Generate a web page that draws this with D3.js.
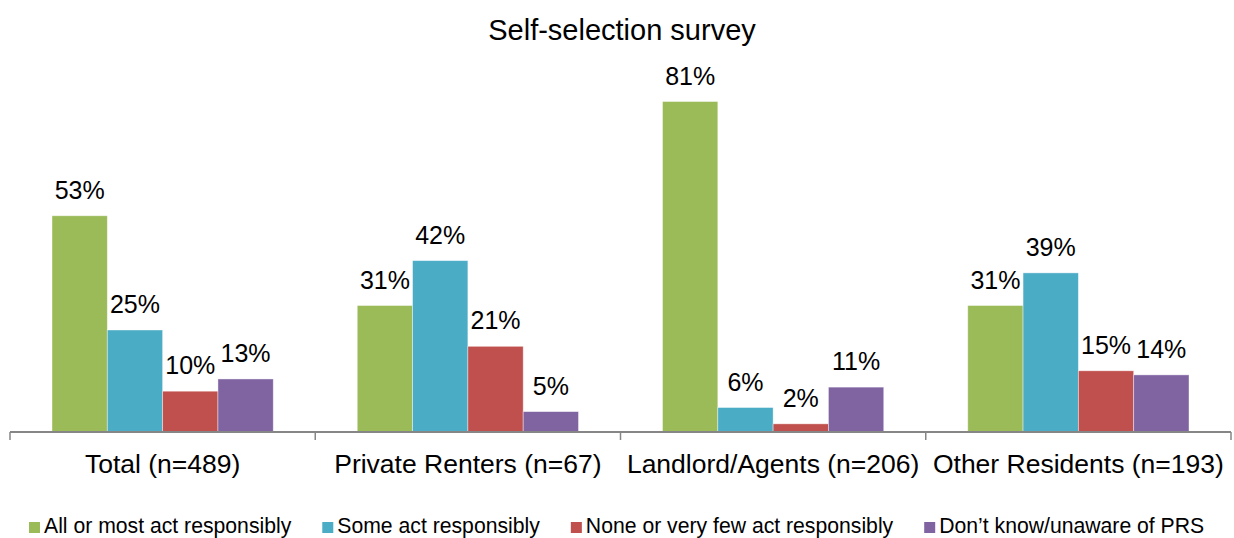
<!DOCTYPE html>
<html>
<head>
<meta charset="utf-8">
<script src="https://cdn.jsdelivr.net/npm/d3@7"></script>
<style>
  html, body { margin: 0; padding: 0; background: #fff; }
  svg { display: block; font-family: "Liberation Sans", Arial, sans-serif; }
</style>
</head>
<body>
<svg id="chart" width="1234" height="538"></svg>
<script>
// Survey groups and the share of respondents giving each answer (%)
const categories = ["Total (n=489)", "Private Renters (n=67)", "Landlord/Agents (n=206)", "Other Residents (n=193)"];
const seriesNames = ["All or most act responsibly", "Some act responsibly", "None or very few act responsibly", "Don\u2019t know/unaware of PRS"];
const allOrMost   = [53, 31, 81, 31];
const someAct     = [25, 42, 6, 39];
const noneOrFew   = [10, 21, 2, 15];
const dontKnow    = [13, 5, 11, 14];
const seriesColors = ["#9BBB59", "#4BACC6", "#C0504D", "#8064A2"];
const yMax = 90;

const seriesValues = [allOrMost, someAct, noneOrFew, dontKnow];

const svg = d3.select("#chart");
const left = 10, right = 1231, baseY = 432, topY = 64.8;

const x0 = d3.scaleBand().domain(categories).range([left, right]).padding(0);
const groupPad = 42;
const x1 = d3.scaleBand().domain(seriesNames).range([groupPad, x0.bandwidth() - groupPad]).padding(0);
const y = d3.scaleLinear().domain([0, yMax]).range([baseY, topY]);

// Title
svg.append("text")
  .attr("x", 622).attr("y", 40)
  .attr("text-anchor", "middle")
  .attr("font-size", 29)
  .attr("fill", "#000")
  .text("Self-selection survey");

// Bars
const groups = svg.append("g").selectAll("g")
  .data(categories)
  .join("g")
  .attr("transform", d => `translate(${x0(d)},0)`);

const cells = groups.selectAll("g")
  .data((c, ci) => seriesNames.map((s, si) => ({ series: s, si, value: seriesValues[si][ci] })))
  .join("g");

cells.append("rect")
  .attr("x", d => x1(d.series))
  .attr("width", x1.bandwidth())
  .attr("y", d => y(d.value))
  .attr("height", d => baseY - y(d.value))
  .attr("fill", d => seriesColors[d.si])
  .attr("stroke", "#ffffff")
  .attr("stroke-opacity", 0.5)
  .attr("stroke-width", 0.8);

cells.append("text")
  .attr("x", d => x1(d.series) + x1.bandwidth() / 2)
  .attr("y", d => y(d.value) - 17)
  .attr("text-anchor", "middle")
  .attr("font-size", 25)
  .attr("fill", "#000")
  .text(d => d.value + "%");

// Category axis with ticks between groups
const axis = svg.append("g").attr("transform", `translate(0,${baseY})`);
axis.append("line")
  .attr("x1", left).attr("x2", right)
  .attr("y1", 0).attr("y2", 0)
  .attr("stroke", "#868686").attr("stroke-width", 2);
const tickXs = categories.map(c => x0(c)).concat([right]);
axis.selectAll("line.tick")
  .data(tickXs)
  .join("line")
  .attr("class", "tick")
  .attr("x1", d => d).attr("x2", d => d)
  .attr("y1", 0).attr("y2", 8)
  .attr("stroke", "#868686").attr("stroke-width", 1.5);
axis.selectAll("text")
  .data(categories)
  .join("text")
  .attr("x", d => x0(d) + x0.bandwidth() / 2)
  .attr("y", 41)
  .attr("text-anchor", "middle")
  .attr("font-size", 26.5)
  .attr("fill", "#000")
  .text(d => d);

// Legend laid out in one row, each entry after the previous one
const legend = svg.append("g");
let lx = 29;
seriesNames.forEach((name, i) => {
  const item = legend.append("g");
  item.append("rect")
    .attr("x", lx).attr("y", 522)
    .attr("width", 11).attr("height", 11)
    .attr("fill", seriesColors[i]);
  const t = item.append("text")
    .attr("x", lx + 15).attr("y", 533)
    .attr("font-size", 21.2)
    .attr("fill", "#000")
    .text(name);
  lx += 15 + t.node().getComputedTextLength() + 31;
});
</script>
</body>
</html>
